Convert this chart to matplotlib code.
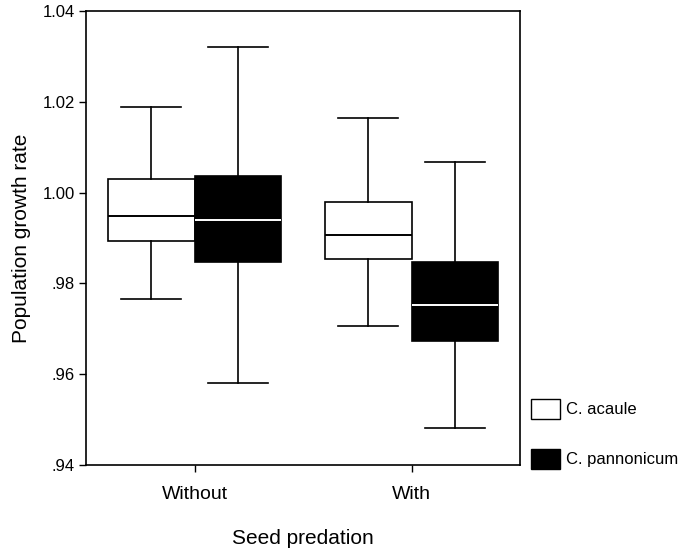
import matplotlib
matplotlib.use("Agg")
import matplotlib.pyplot as plt
from matplotlib.patches import Patch

plt.rcParams['font.family'] = ['Liberation Sans', 'DejaVu Sans']

# data (box plot summary values)
groups = ["Without", "With"]
species = ["C. acaule", "C. pannonicum"]
whislo = [[0.9766, 0.9580], [0.9707, 0.9482]]
q1 = [[0.9893, 0.9846], [0.9853, 0.9674]]
med = [[0.9949, 0.9939], [0.9906, 0.9753]]
q3 = [[1.0029, 1.0037], [0.9979, 0.9848]]
whishi = [[1.0188, 1.0321], [1.0165, 1.0068]]

yticks = [0.94, 0.96, 0.98, 1.00, 1.02, 1.04]
ytick_labels = [".94", ".96", ".98", "1.00", "1.02", "1.04"]

fill_colors = ["white", "black"]
median_colors = ["black", "white"]

fig = plt.figure(figsize=(6.81, 5.48), dpi=100)
ax = fig.add_axes([0.1263, 0.1515, 0.6373, 0.8285])

offsets = [-0.2, 0.2]
for s in range(2):
    stats = []
    for g in range(2):
        stats.append(dict(med=med[g][s], q1=q1[g][s], q3=q3[g][s],
                          whislo=whislo[g][s], whishi=whishi[g][s], fliers=[]))
    pos = [g + offsets[s] for g in range(2)]
    ax.bxp(stats, positions=pos, widths=0.4, capwidths=0.28, patch_artist=True,
           showfliers=False, manage_ticks=False,
           boxprops=dict(facecolor=fill_colors[s], edgecolor="black", linewidth=1.2),
           medianprops=dict(color=median_colors[s], linewidth=1.4),
           whiskerprops=dict(color="black", linewidth=1.2),
           capprops=dict(color="black", linewidth=1.2))

ax.set_xlim(-0.5, 1.5)
ax.set_ylim(0.94, 1.04)
ax.set_xticks([0, 1])
ax.set_xticklabels(groups, fontsize=14)
ax.set_yticks(yticks)
ax.set_yticklabels(ytick_labels, fontsize=12)
ax.tick_params(axis="both", direction="out", length=5, width=1, color="black")
ax.tick_params(axis="x", pad=10)
ax.tick_params(axis="y", pad=3)
for sp in ax.spines.values():
    sp.set_linewidth(1.2)
ax.set_ylabel("Population growth rate", fontsize=15, labelpad=8)
ax.set_xlabel("Seed predation", fontsize=15, labelpad=19)

handles = [Patch(facecolor=c, edgecolor="black", linewidth=1) for c in fill_colors]
fig.legend(handles, species, loc="upper left", bbox_to_anchor=(531 / 681, 1 - 399 / 548),
           frameon=False, fontsize=12, handlelength=1.75, handleheight=1.45,
           handletextpad=0.35, labelspacing=1.8, borderpad=0, borderaxespad=0)

fig.savefig("out.png", dpi=100)
